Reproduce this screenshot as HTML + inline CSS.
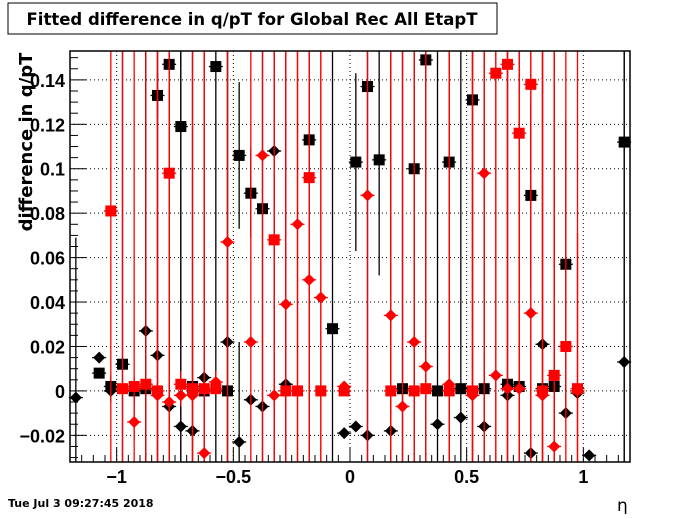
<!DOCTYPE html>
<html><head><meta charset="utf-8"><style>
body{margin:0;background:#fff;width:700px;height:514px;overflow:hidden;font-family:"Liberation Sans",sans-serif}
</style></head><body>
<svg id="c" width="700" height="514" xmlns="http://www.w3.org/2000/svg">
<rect x="8" y="3" width="489" height="31" fill="#fff" stroke="#000"/>
<text x="252" y="25" text-anchor="middle" font-size="16.5" font-weight="bold" font-family="DejaVu Sans, sans-serif">Fitted difference in q/pT for Global Rec All EtapT</text>
<g id="grid"></g><g id="marks"></g><g id="axes"></g>
<text transform="translate(32,142) rotate(-90)" text-anchor="middle" font-size="18" font-weight="bold" font-family="DejaVu Sans, sans-serif">difference in q/pT</text>
<text x="617" y="511" font-size="17" font-family="DejaVu Sans, sans-serif">η</text>
<text x="8" y="507" font-size="11" font-weight="bold" font-family="DejaVu Sans, sans-serif">Tue Jul  3 09:27:45 2018</text>
</svg>
<script>
const xTicks=[-1,-0.5,0,0.5,1];
const xTickLabels=["−1","−0.5","0","0.5","1"];
const yTicks=[-0.02,0,0.02,0.04,0.06,0.08,0.1,0.12,0.14];
const yTickLabels=["−0.02","0","0.02","0.04","0.06","0.08","0.1","0.12","0.14"];
// [eta, value, error] ; error 1 = spans whole frame
const blackSquares=[[-1.075,0.008,0],[-1.025,0.002,0.005],[-0.975,0.012,1],[-0.925,0,0.006],[-0.875,0.001,1],[-0.825,0.133,0.01],[-0.775,0.147,1],[-0.725,0.119,1],[-0.675,0.002,1],[-0.625,0,1],[-0.575,0.146,1],[-0.525,0,1],[-0.475,0.106,0.033],[-0.425,0.089,0.02],[-0.375,0.082,1],[-0.175,0.113,1],[-0.075,0.028,1],[0.025,0.103,0.04],[0.075,0.137,1],[0.125,0.104,0.052],[0.225,0.001,1],[0.275,0.1,1],[0.325,0.149,1],[0.375,0,1],[0.425,0.103,1],[0.475,0.001,1],[0.525,0.131,1],[0.575,0.001,1],[0.675,0.003,1],[0.725,0.002,1],[0.775,0.088,0.042],[0.825,0.001,1],[0.875,0.002,1],[0.925,0.057,0.065],[1.175,0.112,1]];
const blackDiamonds=[[-1.175,-0.003,0.072],[-1.075,0.015,0],[-1.025,0,0.005],[-0.875,0.027,1],[-0.825,0.016,1],[-0.775,-0.007,0],[-0.725,-0.016,1],[-0.675,-0.018,0],[-0.625,0.006,0],[-0.525,0.022,1],[-0.475,-0.023,0.045],[-0.425,-0.004,0],[-0.375,-0.007,0],[-0.325,0.108,1],[-0.275,0.003,1],[-0.025,-0.019,0],[0.025,-0.016,0],[0.075,-0.02,0],[0.175,-0.018,1],[0.375,-0.015,0],[0.475,-0.012,0],[0.575,-0.016,0],[0.675,-0.002,0],[0.775,-0.028,0],[0.825,0.021,0],[0.925,-0.01,0],[0.975,-0.001,0],[1.025,-0.029,0],[1.175,0.013,1]];
const redSquares=[[-1.025,0.081,1],[-0.975,0.001,1],[-0.925,0.002,1],[-0.875,0.003,1],[-0.825,0,1],[-0.775,0.098,1],[-0.725,0.003,0.006],[-0.675,0.001,1],[-0.625,0.001,1],[-0.575,0.001,0],[-0.325,0.068,1],[-0.275,0,1],[-0.225,0,1],[-0.175,0.096,1],[-0.125,0,1],[-0.025,0,0],[0.175,0,0.035],[0.275,0,0],[0.325,0.001,1],[0.425,0,1],[0.525,0,1],[0.625,0.143,1],[0.675,0.147,1],[0.725,0.116,1],[0.775,0.138,1],[0.825,0,1],[0.875,0.007,1],[0.925,0.02,1],[0.975,0.001,0.07]];
const redDiamonds=[[-0.925,-0.014,0.008],[-0.825,-0.002,1],[-0.775,-0.005,1],[-0.725,-0.002,0.005],[-0.675,-0.002,0.034],[-0.625,-0.028,0.059],[-0.575,0.004,0.005],[-0.525,0.067,1],[-0.425,0.022,1],[-0.375,0.106,1],[-0.325,-0.002,0.007],[-0.275,0.039,1],[-0.225,0.075,1],[-0.175,0.05,0.03],[-0.125,0.042,1],[-0.025,0.002,0],[0.075,0.088,1],[0.175,0.034,1],[0.225,-0.007,1],[0.275,0.022,1],[0.325,0.011,1],[0.425,0.003,1],[0.525,-0.002,1],[0.575,0.098,1],[0.625,0.007,1],[0.675,0.001,1],[0.725,0.001,1],[0.775,0.035,1],[0.825,-0.002,1],[0.875,-0.025,1],[0.975,0,1]];

const L=70,R=630,T=51,B=462,X0=-1.2,X1=1.2,Y0=-0.032,Y1=0.153;
const sx=v=>L+(v-X0)/(X1-X0)*(R-L);
const sy=v=>B-(v-Y0)/(Y1-Y0)*(B-T);
const NS="http://www.w3.org/2000/svg";
function mk(tag,parent,attrs){const e=document.createElementNS(NS,tag);for(const k in attrs)e.setAttribute(k,attrs[k]);parent.appendChild(e);return e;}
const grid=document.getElementById('grid'),marks=document.getElementById('marks'),axes=document.getElementById('axes');
xTicks.forEach(t=>{const l=mk('line',grid,{x1:sx(t),x2:sx(t),y1:T,y2:B,stroke:'#000','stroke-dasharray':'1,3'});

});
yTicks.forEach(t=>{const l=mk('line',grid,{x1:L,x2:R,y1:sy(t),y2:sy(t),stroke:'#000','stroke-dasharray':'1,3'});

});
function series(data,color,shape,name){
 data.forEach(d=>{
  const g=mk('g',marks,{});
  
  
  const cx=sx(d[0]),cy=sy(d[1]);
  let y1=d[2]>=1?T:Math.max(T,sy(d[1]+d[2])),y2=d[2]>=1?B:Math.min(B,sy(d[1]-d[2]));
  if(d[2]>0)mk('line',g,{x1:cx,x2:cx,y1:y1,y2:y2,stroke:color,'stroke-width':1.3});
  mk('line',g,{x1:cx-7,x2:cx+7,y1:cy,y2:cy,stroke:color,'stroke-width':1.3});
  if(shape==='s')mk('rect',g,{x:cx-5.5,y:cy-5.5,width:11,height:11,fill:color});
  else mk('polygon',g,{points:`${cx},${cy-6} ${cx+6},${cy} ${cx},${cy+6} ${cx-6},${cy}`,fill:color});
 });
}
series(blackSquares,'#000','s','black-square');
series(blackDiamonds,'#000','d','black-diamond');
series(redSquares,'#f00','s','red-square');
series(redDiamonds,'#f00','d','red-diamond');
const fr=mk('rect',axes,{x:L,y:T,width:R-L,height:B-T,fill:'none',stroke:'#000','stroke-width':1.5});


for(let i=-24;i<=24;i++){const v=i*0.05;const x=sx(v);if(x<L||x>R)continue;const len=(i%10===0)?14:7;
 mk('line',axes,{x1:x,x2:x,y1:B,y2:B-len,stroke:'#000'});}
for(let i=-6;i<=30;i++){const v=i*0.005;const y=sy(v);if(y<T||y>B)continue;const len=(i%4===0)?16:8;
 mk('line',axes,{x1:L,x2:L+len,y1:y,y2:y,stroke:'#000'});}
xTicks.forEach((t,i)=>{const e=mk('text',axes,{x:sx(t),y:483,'text-anchor':'middle','font-size':18,'font-weight':'bold'});e.textContent=xTickLabels[i];

});
yTicks.forEach((t,i)=>{const e=mk('text',axes,{x:65,y:sy(t)+7,'text-anchor':'end','font-size':18,'font-weight':'bold'});e.textContent=yTickLabels[i];

});
</script>
</body></html>
